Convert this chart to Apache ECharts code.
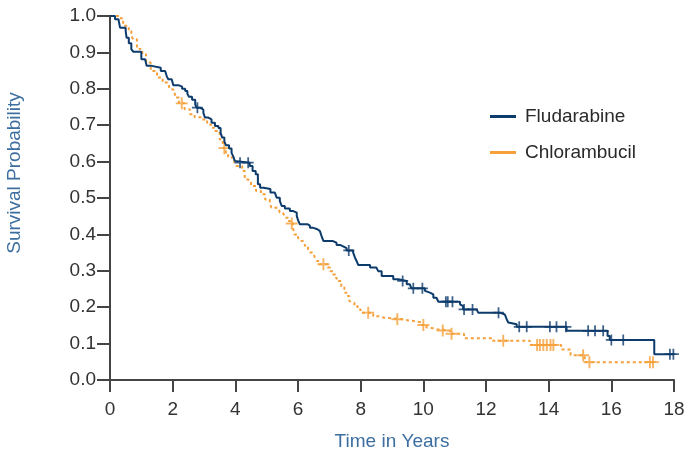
<!DOCTYPE html>
<html lang="en">
<head>
  <meta charset="UTF-8">
  <title>Survival</title>
  <script src="https://cdn.jsdelivr.net/npm/echarts@6/dist/echarts.min.js"></script>
  <style>
    html, body { margin: 0; padding: 0; background: #fff; }
    #chart { width: 691px; height: 455px; }
  </style>
</head>
<body>
  <div id="chart"></div>
  <script type="text/javascript">
    // Fludarabine: times where the curve steps down, and the new level
    var fluTime = [0, 0.16, 0.27, 0.32, 0.5, 0.53, 0.6, 0.68, 0.74, 1.0, 1.12, 1.17, 1.33, 1.62, 1.76, 1.81, 1.86, 1.97,
      2.02, 2.18, 2.3, 2.4, 2.47, 2.52, 2.62, 2.72, 2.77, 2.87, 2.98, 3.03, 3.14, 3.24, 3.35, 3.46, 3.53, 3.58, 3.65,
      3.7, 3.8, 3.88, 3.94, 3.98, 4.02, 4.46, 4.55, 4.65, 4.72, 4.79, 4.9, 5.12, 5.26, 5.32, 5.42, 5.48, 5.58, 5.74,
      5.85, 5.96, 6.01, 6.06, 6.3, 6.38, 6.49, 6.62, 6.7, 6.75, 6.81, 7.1, 7.23, 7.34, 7.44, 7.55, 7.76, 7.82, 7.87,
      7.92, 8.3, 8.5, 8.56, 8.67, 9.04, 9.2, 9.47, 9.57, 9.62, 10.05, 10.11, 10.21, 10.32, 10.42, 10.48, 11.17, 11.22,
      11.27, 11.7, 11.75, 12.44, 12.6, 12.66, 12.71, 12.76, 12.98, 14.57, 15.88, 15.95, 17.37, 18.0];
    var fluSurv = [1.0, 0.991, 0.986, 0.968, 0.959, 0.94, 0.925, 0.909, 0.902, 0.881, 0.876, 0.863, 0.858, 0.849, 0.844,
      0.835, 0.826, 0.821, 0.81, 0.806, 0.8, 0.794, 0.786, 0.778, 0.77, 0.757, 0.748, 0.743, 0.734, 0.721, 0.716,
      0.707, 0.698, 0.692, 0.679, 0.666, 0.655, 0.645, 0.636, 0.624, 0.613, 0.602, 0.597, 0.588, 0.574, 0.565, 0.538,
      0.528, 0.525, 0.515, 0.51, 0.501, 0.492, 0.478, 0.471, 0.464, 0.46, 0.451, 0.437, 0.428, 0.424, 0.418, 0.414,
      0.409, 0.404, 0.396, 0.382, 0.377, 0.371, 0.367, 0.362, 0.356, 0.35, 0.336, 0.327, 0.316, 0.309, 0.306, 0.299,
      0.286, 0.277, 0.272, 0.263, 0.258, 0.252, 0.245, 0.24, 0.235, 0.226, 0.222, 0.215, 0.208, 0.203, 0.194, 0.19,
      0.185, 0.18, 0.176, 0.167, 0.158, 0.153, 0.146, 0.135, 0.121, 0.11, 0.071, 0.071];
    var fluCensor = [2.79, 4.15, 4.41, 7.62, 9.34, 9.68, 9.97, 10.72, 10.78, 10.93, 11.3, 11.57, 12.4, 13.06, 13.3,
      14.04, 14.25, 14.55, 15.26, 15.48, 15.74, 16.0, 16.38, 17.87, 17.98];

    // Chlorambucil
    var chlTime = [0, 0.3, 0.42, 0.6, 0.68, 0.74, 0.86, 0.94, 1.03, 1.15, 1.3, 1.5, 1.68, 1.86, 1.9, 2.0, 2.07, 2.2,
      2.38, 2.55, 2.7, 2.9, 3.1, 3.22, 3.33, 3.5, 3.6, 3.63, 3.7, 3.77, 3.97, 4.03, 4.22, 4.3, 4.4, 4.5, 4.66, 4.82,
      4.95, 5.1, 5.15, 5.37, 5.42, 5.52, 5.58, 5.68, 5.75, 5.84, 5.88, 6.0, 6.06, 6.15, 6.22, 6.32, 6.38, 6.48, 6.54,
      6.6, 6.68, 6.95, 7.02, 7.12, 7.22, 7.29, 7.38, 7.48, 7.55, 7.64, 7.7, 7.8, 7.9, 8.0, 8.4, 8.56, 8.77, 9.3, 9.6,
      9.95, 10.1, 10.2, 10.45, 10.85, 11.3, 12.2, 13.4, 14.4, 14.7, 15.15, 17.4];
    var chlSurv = [1.0, 0.994, 0.973, 0.959, 0.945, 0.936, 0.915, 0.909, 0.895, 0.872, 0.849, 0.831, 0.817, 0.812,
      0.799, 0.794, 0.776, 0.76, 0.744, 0.73, 0.722, 0.716, 0.702, 0.693, 0.684, 0.661, 0.643, 0.637, 0.624, 0.611,
      0.597, 0.588, 0.574, 0.551, 0.547, 0.533, 0.519, 0.51, 0.496, 0.487, 0.473, 0.469, 0.46, 0.455, 0.446, 0.437,
      0.43, 0.418, 0.4, 0.391, 0.382, 0.377, 0.368, 0.359, 0.35, 0.345, 0.336, 0.327, 0.318, 0.309, 0.299, 0.29,
      0.279, 0.272, 0.254, 0.24, 0.231, 0.217, 0.212, 0.203, 0.194, 0.185, 0.175, 0.171, 0.167, 0.163, 0.158, 0.151,
      0.144, 0.139, 0.136, 0.127, 0.115, 0.108, 0.096, 0.084, 0.068, 0.049, 0.049];
    var chlCensor = [2.29, 3.65, 5.8, 6.81, 8.24, 9.17, 10.0, 10.62, 10.9, 12.55, 13.63, 13.72, 13.83, 13.94, 14.06,
      14.15, 15.1, 15.3, 17.23, 17.33];

    var seriesNames = ["Fludarabine", "Chlorambucil"];
    var blue = "#0d3b6c",
        orange = "#f5a03a",
        axisBlue = "#3c6e9f";

    // survival level of a step curve at time t
    function levelAt(times, surv, t) {
      var s = surv[0];
      for (var i = 0; i < times.length; i++) {
        if (times[i] <= t) s = surv[i];
      }
      return s;
    }
    function pairs(times, surv) {
      return times.map(function (t, i) { return [t, surv[i]]; });
    }
    function censorPts(times, surv, cens) {
      return cens.map(function (t) { return [t, levelAt(times, surv, t)]; });
    }

    var plus = "path://M4.2,0H5.8V10H4.2Z M0,4.2H10V5.8H0Z";
    var font = "Liberation Sans";

    var myChart = echarts.init(document.getElementById("chart"));
    var option = {
      animation: false,
      textStyle: { fontFamily: font },
      grid: { left: 110, right: 17, top: 16, bottom: 75, containLabel: false, outerBoundsMode: "none" },
      legend: {
        data: seriesNames,
        orient: "vertical",
        left: 485,
        top: 102,
        itemWidth: 26,
        itemHeight: 3,
        itemGap: 17,
        icon: "rect",
        textStyle: { fontSize: 19, color: "#2a2a2a", fontFamily: font, padding: [0, 0, 0, 4] }
      },
      xAxis: {
        type: "value",
        min: 0,
        max: 18,
        interval: 2,
        name: "Time in Years",
        nameLocation: "middle",
        nameGap: 52,
        nameTextStyle: { fontSize: 19, color: axisBlue },
        axisLine: { lineStyle: { color: "#444", width: 2 } },
        axisTick: { length: 12, lineStyle: { color: "#444", width: 2 } },
        axisLabel: { fontSize: 19, color: "#333", margin: 20 },
        splitLine: { show: false }
      },
      yAxis: {
        type: "value",
        min: 0,
        max: 1,
        interval: 0.1,
        name: "Survival Probability",
        nameLocation: "middle",
        nameGap: 86,
        nameTextStyle: { fontSize: 19, color: axisBlue, padding: [0, 0, 0, 50] },
        axisLine: { show: true, lineStyle: { color: "#444", width: 2 } },
        axisTick: { show: true, length: 13, lineStyle: { color: "#444", width: 2 } },
        axisLabel: {
          fontSize: 19, color: "#333", margin: 14,
          formatter: function (v) { return v.toFixed(1); }
        },
        splitLine: { show: false }
      },
      series: [
        {
          name: seriesNames[0],
          type: "line",
          step: "end",
          showSymbol: false,
          data: pairs(fluTime, fluSurv),
          itemStyle: { color: blue },
          lineStyle: { color: blue, width: 2 },
          z: 3
        },
        {
          name: seriesNames[1],
          type: "line",
          step: "end",
          showSymbol: false,
          data: pairs(chlTime, chlSurv),
          itemStyle: { color: orange },
          lineStyle: { color: orange, width: 2, type: [3, 3] },
          z: 2
        },
        {
          name: seriesNames[0] + " censored",
          type: "scatter",
          symbol: plus,
          symbolSize: 11,
          data: censorPts(fluTime, fluSurv, fluCensor),
          itemStyle: { color: blue },
          z: 4
        },
        {
          name: seriesNames[1] + " censored",
          type: "scatter",
          symbol: plus,
          symbolSize: 12,
          data: censorPts(chlTime, chlSurv, chlCensor),
          itemStyle: { color: orange },
          z: 2
        }
      ]
    };
    option && myChart.setOption(option);
  </script>
</body>
</html>
